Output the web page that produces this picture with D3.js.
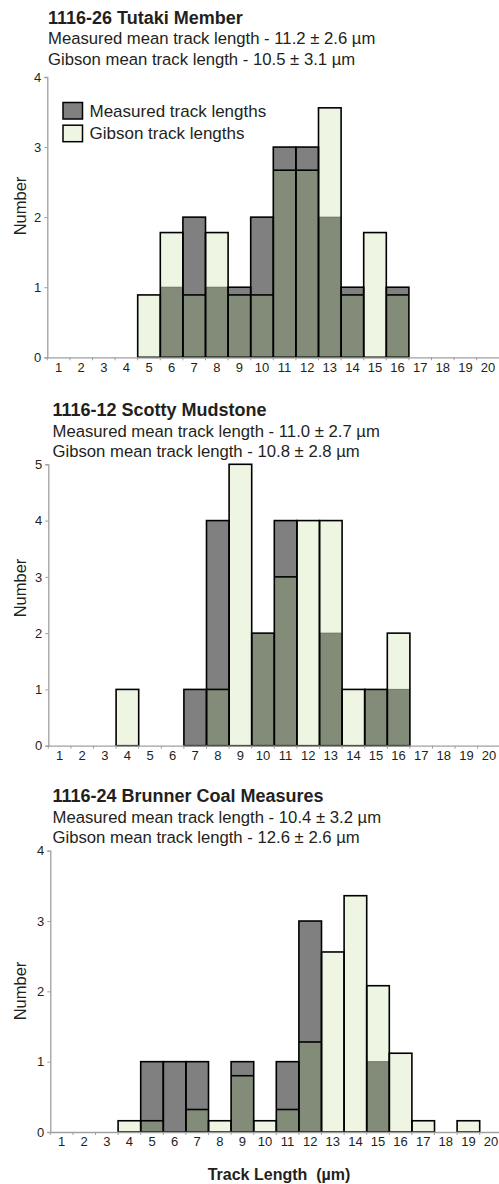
<!DOCTYPE html>
<html>
<head>
<meta charset="utf-8">
<script src="https://cdn.jsdelivr.net/npm/d3@7"></script>
<style>
  html, body { margin: 0; padding: 0; background: #fff; }
  svg { display: block; }
  text { font-family: "Liberation Sans", Arial, Helvetica, sans-serif; fill: #231f20; }
</style>
</head>
<body>
<svg id="chart" width="499" height="1184"></svg>
<script>
// ---- Data ----
const bins = d3.range(1, 21);               // track-length bins (µm)
const tickLabels = bins.map(String);

const titles = ["1116-26 Tutaki Member", "1116-12 Scotty Mudstone", "1116-24 Brunner Coal Measures"];
const measuredMeans = ["11.2 ± 2.6", "11.0 ± 2.7", "10.4 ± 3.2"];
const gibsonMeans = ["10.5 ± 3.1", "10.8 ± 2.8", "12.6 ± 2.6"];

const tutakiMeasured = [0,0,0,0,0,1,2,1,1,2,3,3,2,1,0,1,0,0,0,0];
const tutakiGibson   = [0,0,0,0,0.89,1.78,0.89,1.78,0.89,0.89,2.67,2.67,3.56,0.89,1.78,0.89,0,0,0,0];

const scottyMeasured = [0,0,0,0,0,0,1,4,0,2,4,0,2,0,1,1,0,0,0,0];
const scottyGibson   = [0,0,0,1,0,0,0,1,5,2,3,4,4,1,1,2,0,0,0,0];

const brunnerMeasured = [0,0,0,0,1,1,1,0,1,0,1,3,0,0,1,0,0,0,0,0];
const brunnerGibson   = [0,0,0,0.16,0.16,0,0.32,0.16,0.8,0.16,0.32,1.28,2.56,3.36,2.08,1.12,0.16,0,0.16,0];

const yMaxes = [4, 5, 4];
const legendLabels = ["Measured track lengths", "Gibson track lengths"];

// ---- Styles / layout ----
const C_MEAS = "#808080", C_GIB = "#eef5e3", C_OVER = "#828c78", C_AXIS = "#a0a0a0";
const BIN_W = 22.6;
const layout = [
  { x0: 47.3, yTop: 77,    yBot: 357.3, tY: 24,    s1Y: 43.5,  s2Y: 64.5,  tX: 48,   numY: 206 },
  { x0: 48.3, yTop: 464.3, yBot: 745.7, tY: 416,   s1Y: 437,   s2Y: 457,   tX: 52.5, numY: 588 },
  { x0: 50.3, yTop: 850.7, yBot: 1132,  tY: 801.7, s1Y: 823,   s2Y: 842.7, tX: 52.5, numY: 991 }
];
const seriesM = [tutakiMeasured, scottyMeasured, brunnerMeasured];
const seriesG = [tutakiGibson, scottyGibson, brunnerGibson];

const svg = d3.select("#chart");

layout.forEach((L, p) => {
  const g = svg.append("g");
  const x = d3.scaleBand().domain(bins).range([L.x0, L.x0 + BIN_W * bins.length]).padding(0);
  const y = d3.scaleLinear().domain([0, yMaxes[p]]).range([L.yBot, L.yTop]);

  // titles
  g.append("text").attr("x", L.tX).attr("y", L.tY)
    .style("font-size", "18px").style("font-weight", "bold").text(titles[p]);
  g.append("text").attr("x", L.tX).attr("y", L.s1Y)
    .style("font-size", "16.7px").text("Measured mean track length - " + measuredMeans[p] + " µm");
  g.append("text").attr("x", L.tX).attr("y", L.s2Y)
    .style("font-size", "16.7px").text("Gibson mean track length - " + gibsonMeans[p] + " µm");

  // bars
  const data = bins.map((b, i) => ({ b, m: seriesM[p][i], gb: seriesG[p][i] }));
  const bars = g.append("g");
  data.forEach(d => {
    const bx = x(d.b), bw = x.bandwidth();
    const lo = Math.min(d.m, d.gb), hi = Math.max(d.m, d.gb);
    if (hi <= 0) return;
    // upper part colour
    bars.append("rect").attr("x", bx).attr("width", bw)
      .attr("y", y(hi)).attr("height", y(lo) - y(hi))
      .attr("fill", d.m > d.gb ? C_MEAS : C_GIB);
    if (lo > 0) {
      bars.append("rect").attr("x", bx).attr("width", bw)
        .attr("y", y(lo)).attr("height", y(0) - y(lo))
        .attr("fill", C_OVER);
    }
  });
  // inner division lines
  data.forEach(d => {
    const lo = Math.min(d.m, d.gb);
    if (lo > 0 && d.m !== d.gb) {
      const bx = x(d.b), bw = x.bandwidth();
      bars.append("line").attr("x1", bx).attr("x2", bx + bw)
        .attr("y1", y(lo)).attr("y2", y(lo))
        .attr("stroke", d.m > d.gb ? "#000" : "#5d6656")
        .attr("stroke-width", d.m > d.gb ? 1.6 : 0.8);
    }
  });
  // outlines
  data.forEach(d => {
    const hi = Math.max(d.m, d.gb);
    if (hi <= 0) return;
    bars.append("rect").attr("x", x(d.b)).attr("width", x.bandwidth())
      .attr("y", y(hi)).attr("height", y(0) - y(hi))
      .attr("fill", "none").attr("stroke", "#000").attr("stroke-width", 1.6);
  });

  // y axis
  const yAxis = d3.axisLeft(y).ticks(yMaxes[p]).tickSize(3).tickPadding(3).tickFormat(d3.format("d"));
  const ya = g.append("g").attr("transform", `translate(${L.x0},0)`).call(yAxis);
  ya.select(".domain").attr("stroke", C_AXIS).attr("stroke-width", 1.3);
  ya.selectAll(".tick line").attr("stroke", C_AXIS).attr("stroke-width", 1);
  ya.selectAll(".tick text").style("font-size", "13px").attr("fill", "#231f20")
    .style("font-family", "'Liberation Sans', Arial, sans-serif");

  // x axis
  const xAxis = d3.axisBottom(x).tickSize(0).tickPadding(5).tickFormat((d, i) => tickLabels[i]);
  const xa = g.append("g").attr("transform", `translate(0,${L.yBot})`).call(xAxis);
  xa.select(".domain").attr("stroke", C_AXIS).attr("stroke-width", 1.3);
  xa.selectAll(".tick text").style("font-size", "13px").attr("fill", "#231f20")
    .style("font-family", "'Liberation Sans', Arial, sans-serif");
  // boundary ticks
  xa.selectAll(".bnd").data(bins).enter().append("line").attr("class", "bnd")
    .attr("x1", d => x(d)).attr("x2", d => x(d)).attr("y1", 0).attr("y2", 3)
    .attr("stroke", C_AXIS).attr("stroke-width", 1);

  // y title
  g.append("text").attr("transform", `translate(26,${L.numY}) rotate(-90)`)
    .attr("text-anchor", "middle").style("font-size", "16.5px").text("Number");

  // legend (first panel only)
  if (p === 0) {
    const lg = g.append("g");
    [C_MEAS, C_GIB].forEach((c, i) => {
      lg.append("rect").attr("x", 63).attr("y", 102.5 + i * 22.7)
        .attr("width", 19.5).attr("height", 16.5)
        .attr("fill", c).attr("stroke", "#000").attr("stroke-width", 1.5);
      lg.append("text").attr("x", 89.5).attr("y", 116.7 + i * 22.5)
        .style("font-size", "17px").text(legendLabels[i]);
    });
  }
});

// x title
svg.append("text").attr("x", 279).attr("y", 1180).attr("text-anchor", "middle")
  .style("font-size", "16px").style("font-weight", "bold").text("Track Length  (µm)")
  .attr("xml:space", "preserve").style("white-space", "pre");
</script>
</body>
</html>
